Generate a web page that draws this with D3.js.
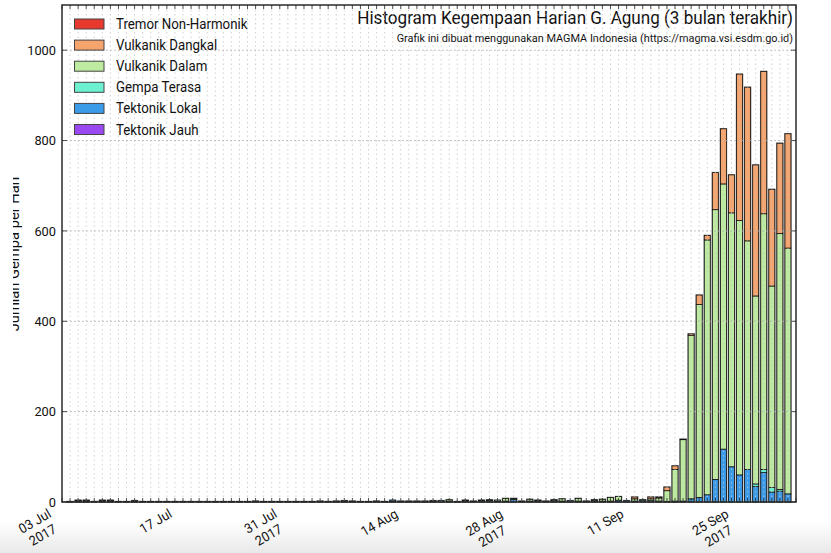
<!DOCTYPE html>
<html><head><meta charset="utf-8">
<script src="https://cdn.jsdelivr.net/npm/d3@7"></script>
<style>html,body{margin:0;padding:0;background:#fff;} svg{display:block;} text{font-family:Roboto,"Noto Sans",sans-serif;fill:#111;}</style>
</head><body>
<svg id="chart" width="831" height="553"></svg>
<script>
// ---------- DATA ----------
const seriesKeys = ["tj","tl","gt","vd","vda","tnh"]; // stack order bottom -> top
const seriesNames = {tnh:"Tremor Non-Harmonik", vda:"Vulkanik Dangkal", vd:"Vulkanik Dalam", gt:"Gempa Terasa", tl:"Tektonik Lokal", tj:"Tektonik Jauh"};
const seriesColors = {tnh:"#e8392f", vda:"#f4a46c", vd:"#bdeba0", gt:"#6cf0d0", tl:"#3b9be8", tj:"#9a48f0"};
const legendOrder = ["tnh","vda","vd","gt","tl","tj"];

// daily counts, 04 Jul 2017 .. 01 Oct 2017
const tremorNonHarmonik = [0,0,0,0,0,0,0,0,0,0, 0,0,0,0,0,0,0,0,0,0, 0,0,0,0,0,0,0,0,0,0,
  0,0,0,0,0,0,0,0,0,0, 0,0,0,0,0,0,0,0,0,0, 0,0,0,0,0,0,0,0,0,0,
  0,0,0,0,0,0,0,0,0,0, 0,0,0,0,0,0,0,0,0,0, 0,0,0,0,0,0,0,0,0,0];
const vulkanikDangkal = [0,0,0,0,0,0,0,0,0,0, 0,0,0,0,0,0,0,0,0,0, 0,0,0,0,0,0,0,0,0,0,
  0,0,0,0,0,0,0,0,0,0, 0,0,0,0,0,0,0,0,0,0, 0,0,0,0,0,0,0,0,0,0,
  0,0,0,0,0,0,0,0,0,0, 4,0,4,2,8,8,1,3,21,10, 82,122,84,324,340,290,315,214,200,253];
const vulkanikDalam = [0,0,0,0,0,0,0,0,0,0, 0,0,0,0,0,0,0,0,0,0, 0,0,0,0,0,0,0,0,0,0,
  0,0,0,0,1,0,0,0,0,0, 0,0,0,0,0,1,0,3,0,1, 0,1,2,3,6,2,0,4,1,0,
  2,5,0,6,0,2,4,8,8,0, 5,1,4,7,24,70,136,362,427,564, 597,587,562,563,506,416,566,446,566,544];
const gempaTerasa = [0,0,0,0,0,0,0,0,0,0, 0,0,0,0,0,0,0,0,0,0, 0,0,0,0,0,0,0,0,0,0,
  0,0,0,0,0,0,0,0,0,0, 0,0,0,0,0,0,0,0,0,0, 0,0,0,0,0,0,0,0,0,0,
  0,0,0,0,0,0,0,0,0,0, 0,0,0,0,0,0,0,0,0,0, 0,0,0,0,0,6,7,10,4,0];
const tektonikLokal = [1,2,2,1,2,2,1,1,1,1, 1,1,1,1,1,1,1,1,1,1, 1,1,1,2,1,1,1,1,1,1,
  1,2,1,2,2,2,1,1,2,1, 3,2,2,2,2,2,3,2,1,3, 2,3,3,1,2,6,2,2,3,2,
  3,2,3,2,2,3,2,2,4,3, 2,4,3,2,1,2,2,7,10,16, 50,117,78,60,72,34,65,22,24,18];
const tektonikJauh = [0,2,2,0,2,2,0,0,2,0, 0,0,0,0,0,0,0,0,0,0, 0,0,0,0,0,0,0,0,0,0,
  0,0,0,0,0,0,0,0,0,0, 1,0,0,0,0,0,0,0,0,0, 0,0,0,0,0,0,0,0,0,0,
  0,0,0,0,0,0,0,0,0,0, 0,0,0,0,0,0,0,0,0,0, 0,0,0,0,0,0,0,0,0,0];

const xTickDates = ["2017-07-03","2017-07-17","2017-07-31","2017-08-14","2017-08-28","2017-09-11","2017-09-25"];
const xTickLabels = [["03 Jul","2017"],["17 Jul"],["31 Jul","2017"],["14 Aug"],["28 Aug","2017"],["11 Sep"],["25 Sep","2017"]];
const yTicks = [0,200,400,600,800,1000];
const titleText = "Histogram Kegempaan Harian G. Agung (3 bulan terakhir)";
const subtitleText = "Grafik ini dibuat menggunakan MAGMA Indonesia (https://magma.vsi.esdm.go.id)";
const yLabelText = "Jumlah Gempa per Hari";

// ---------- BUILD ----------
const parse = d3.timeParse("%Y-%m-%d");
const dates = d3.timeDay.range(new Date(2017,6,4), new Date(2017,9,2));
const seriesData = {tnh:tremorNonHarmonik, vda:vulkanikDangkal, vd:vulkanikDalam, gt:gempaTerasa, tl:tektonikLokal, tj:tektonikJauh};
const rows = dates.map((d,i)=>{ const r={date:d}; seriesKeys.forEach(k=>r[k]=seriesData[k][i]); return r; });
const stacked = d3.stack().keys(seriesKeys)(rows);

const L=62, R=796, T=5, B=502;
const svg = d3.select("#chart");
const defs = svg.append("defs");
const grad = defs.append("linearGradient").attr("id","bg").attr("x1",0).attr("x2",0).attr("y1",0).attr("y2",1);
grad.append("stop").attr("offset","0").attr("stop-color","#ffffff");
grad.append("stop").attr("offset","1").attr("stop-color","#e9e9e9");
defs.append("clipPath").attr("id","ylabclip").append("rect").attr("x",13).attr("y",0).attr("width",820).attr("height",553);
svg.append("rect").attr("width",831).attr("height",553).attr("fill","#fff");
svg.append("rect").attr("x",0).attr("y",522).attr("width",831).attr("height",31).attr("fill","url(#bg)");

const x = d3.scaleTime().domain([new Date(2017,6,3), new Date(2017,9,2)]).range([L,R]);
const y = d3.scaleLinear().domain([0,1100]).range([B,T]);
const dayW = x(new Date(2017,6,4)) - x(new Date(2017,6,3));
const bw = dayW*0.74;

// title measure -> condense factor
const title = svg.append("text").attr("text-anchor","end").style("font-size","18px").text(titleText);
const K = 436 / title.node().getComputedTextLength();
title.attr("transform",`translate(793,24) scale(${K},1)`);
function txt(parent,tx,ty,s,size,anchor){
  return parent.append("text").attr("transform",`translate(${tx},${ty}) scale(${K},1)`)
    .attr("text-anchor",anchor||"start").style("font-size",size+"px").text(s);
}
txt(svg,793,42,subtitleText,11.5,"end");

// bars
const barG = svg.append("g");
rows.forEach((r,i)=>{
  const tot = d3.sum(seriesKeys, k=>r[k]);
  if (tot<=0) return;
  barG.append("rect").attr("x",x(r.date)-bw/2).attr("width",bw)
    .attr("y",y(tot)).attr("height",y(0)-y(tot))
    .attr("fill","none").attr("stroke","#8c8c8c").attr("stroke-width",1.6);
});
stacked.forEach(s=>{
  barG.selectAll(null).data(s.filter(d=>d[1]>d[0])).enter().append("rect")
    .attr("x",d=>x(d.data.date)-bw/2).attr("width",bw)
    .attr("y",d=>y(d[1])).attr("height",d=>y(d[0])-y(d[1]))
    .attr("fill",seriesColors[s.key]).attr("stroke","#111").attr("stroke-width",0.8);
});

// grid (drawn over bars)
const grid = svg.append("g");
grid.selectAll(null).data(dates).enter().append("line")
  .attr("x1",d=>x(d)).attr("x2",d=>x(d)).attr("y1",T).attr("y2",B)
  .attr("stroke","#c4c4c4").attr("stroke-width",0.8).attr("stroke-dasharray","1.5,3");
grid.selectAll(null).data(yTicks.slice(1)).enter().append("line")
  .attr("x1",L).attr("x2",R).attr("y1",d=>y(d)).attr("y2",d=>y(d))
  .attr("stroke","#b5b5b5").attr("stroke-width",0.8).attr("stroke-dasharray","2,2");

// ticks
const allDays = d3.timeDay.range(new Date(2017,6,3), new Date(2017,9,3));
const tk = svg.append("g").attr("stroke","#222").attr("stroke-width",0.8);
tk.selectAll(null).data(allDays).enter().append("line")
  .attr("x1",d=>x(d)).attr("x2",d=>x(d)).attr("y1",T).attr("y2",T+4);
tk.selectAll(null).data(allDays).enter().append("line")
  .attr("x1",d=>x(d)).attr("x2",d=>x(d)).attr("y1",B).attr("y2",B-4);
tk.selectAll(null).data(yTicks).enter().append("line")
  .attr("x1",L).attr("x2",L+5).attr("y1",d=>y(d)).attr("y2",d=>y(d));
tk.selectAll(null).data(yTicks).enter().append("line")
  .attr("x1",R).attr("x2",R-5).attr("y1",d=>y(d)).attr("y2",d=>y(d));

// frame
svg.append("rect").attr("x",L).attr("y",T).attr("width",R-L).attr("height",B-T)
  .attr("fill","none").attr("stroke","#2a2a2a").attr("stroke-width",1.5);

// y tick labels
yTicks.forEach(v=> txt(svg, 56, y(v)+4.8, String(v), 13.5, "end"));

// x tick labels (rotated 30deg, right aligned bbox like matplotlib)
const ang = 30*Math.PI/180, c=Math.cos(ang), s=Math.sin(ang);
const fs=13.5, lh=fs*1.18, asc=fs*0.9;
xTickLabels.forEach((lines,i)=>{
  const tx = x(parse(xTickDates[i]));
  const g = svg.append("g").attr("transform",`translate(${tx},${B+4})`);
  const inner = g.append("g");
  const rot = inner.append("g").attr("transform","rotate(-30)");
  const ts = lines.map((l,j)=> rot.append("text").attr("text-anchor","middle").style("font-size",fs+"px").text(l));
  const W = d3.max(ts, t=>t.node().getComputedTextLength()*K);
  ts.forEach((t,j)=> t.attr("transform",`translate(${W/2},${asc+j*lh}) scale(${K},1)`));
  const H = lines.length*lh;
  inner.attr("transform",`translate(${-(W*c+H*s)},${W*s})`);
});

// y label
svg.append("g").attr("clip-path","url(#ylabclip)")
  .append("text").attr("transform",`translate(18.5,254) rotate(-90) scale(${K},1)`)
  .attr("text-anchor","middle").style("font-size","15.5px").text(yLabelText);

// legend
const lg = svg.append("g");
legendOrder.forEach((k,i)=>{
  const cy = 24 + i*21.1;
  lg.append("rect").attr("x",74.5).attr("y",cy-5).attr("width",29.5).attr("height",10)
    .attr("fill",seriesColors[k]).attr("stroke","#444").attr("stroke-width",1);
  txt(lg,116,cy+5,seriesNames[k],14,"start");
});
</script>
</body></html>
